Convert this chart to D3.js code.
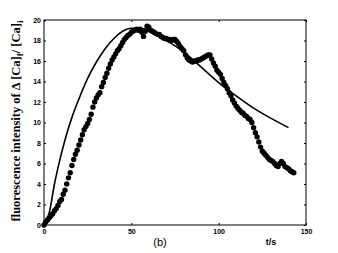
<!DOCTYPE html>
<html><head><meta charset="utf-8">
<script src="https://cdn.jsdelivr.net/npm/d3@7"></script>
<style>body{margin:0;background:#fff}svg{display:block}</style>
</head><body>
<script>
const xTicks = [0, 50, 100, 150];
const yTicks = [0, 2, 4, 6, 8, 10, 12, 14, 16, 18, 20];
const modelT = [0, 3, 6, 9, 12, 16, 20, 25, 30, 35, 40, 45, 50, 55, 60, 70, 80, 90, 100, 110, 120, 130, 140];
const modelV = [0, 1.2, 4.0, 6.3, 8.3, 10.5, 12.3, 14.3, 15.9, 17.2, 18.2, 18.9, 19.2, 19.2, 19.0, 18.0, 16.9, 15.4, 13.9, 12.6, 11.4, 10.4, 9.5];
const expT = [0,1,2,3,4,5,6,7,8,9,10,11,12,13,14,15,16,17,18,19,20,21,22,23,24,25,26,27,28,29,30,31,32,33,34,35,36,37,38,39,40,41,42,43,44,45,46,47,48,49,50,51,52,53,54,55,56,57,58,59,60,61,62,63,64,65,66,67,68,69,70,71,72,73,74,75,76,77,78,79,80,81,82,83,84,85,86,87,88,89,90,91,92,93,94,95,96,97,98,99,100,101,102,103,104,105,106,107,108,109,110,111,112,113,114,115,116,117,118,119,120,121,122,123,124,125,126,127,128,129,130,131,132,133,134,135,136,137,138,139,140,141,142,143];
const expV = [0,0.3,0.5,0.7,0.9,1.1,1.4,1.6,1.9,2.3,2.5,3.0,3.4,4.0,4.6,5.1,5.8,6.4,6.9,7.3,7.8,8.3,8.8,9.3,9.6,9.9,10.3,10.8,11.5,12.0,12.4,12.7,12.9,13.5,13.9,14.4,14.8,15.3,15.7,16.1,16.4,16.7,17.0,17.2,17.5,17.8,18.1,18.3,18.5,18.6,18.8,18.9,19.0,19.1,19.0,19.1,18.8,18.4,18.9,19.4,19.3,19.0,18.9,18.8,18.7,18.6,18.6,18.4,18.3,18.2,18.2,18.1,18.1,18.0,18.1,18.1,17.9,17.7,17.4,17.2,17.0,16.6,16.3,16.1,16.0,15.9,16.0,16.0,16.1,16.1,16.2,16.3,16.4,16.5,16.6,16.6,16.2,15.8,15.5,15.1,14.9,14.7,14.3,13.9,13.6,13.3,12.9,12.6,12.2,11.9,11.6,11.4,11.2,11.0,10.9,10.7,10.6,10.4,10.3,10.0,9.5,9.0,8.6,8.1,7.6,7.2,7.0,6.8,6.6,6.4,6.3,6.2,6.0,5.8,5.7,6.0,6.2,6.0,5.7,5.6,5.5,5.3,5.2,5.1];

const W = 338, H = 253;
const m = {l: 44, r: 32, t: 20, b: 28};
const svg = d3.select("body").append("svg").attr("width", W).attr("height", H);
const x = d3.scaleLinear().domain([0, 150]).range([m.l, W - m.r]);
const y = d3.scaleLinear().domain([0, 20]).range([H - m.b, m.t]);

const tickFont = "bold 7px Arial, 'Liberation Sans', sans-serif";
svg.append("rect").attr("x", x(0)).attr("y", y(20)).attr("width", x(150) - x(0)).attr("height", y(0) - y(20))
  .attr("fill", "none").attr("stroke", "#000").attr("stroke-width", 1);

const gx = svg.append("g").attr("transform", `translate(0,${y(0)})`)
  .call(d3.axisBottom(x).tickValues(xTicks).tickSize(-2).tickPadding(4).tickFormat(d3.format("d")));
const gy = svg.append("g").attr("transform", `translate(${x(0)},0)`)
  .call(d3.axisLeft(y).tickValues(yTicks).tickSize(-2).tickPadding(3).tickFormat(d3.format("d")));
const gr = svg.append("g").attr("transform", `translate(${x(150)},0)`)
  .call(d3.axisRight(y).tickValues(yTicks).tickSize(-2).tickFormat(""));
const gt = svg.append("g").attr("transform", `translate(0,${y(20)})`)
  .call(d3.axisTop(x).tickValues(xTicks).tickSize(-2).tickFormat(""));
[gx, gy, gr, gt].forEach(g => {
  g.select(".domain").remove();
  g.selectAll("line").attr("stroke", "#000");
  g.selectAll("text").style("font", tickFont).attr("fill", "#000");
});

svg.append("g").selectAll("circle").data(expT).join("circle")
  .attr("cx", (d) => x(d)).attr("cy", (d, i) => y(expV[i])).attr("r", 2.7).attr("fill", "#000");

const line = d3.line().x((d) => x(d)).y((d, i) => y(modelV[i])).curve(d3.curveMonotoneX);
svg.append("path").datum(modelT).attr("d", line).attr("fill", "none").attr("stroke", "#000").attr("stroke-width", 1.6);

svg.append("text").attr("x", 160).attr("y", 246).attr("text-anchor", "middle")
  .style("font", "11px Arial, 'Liberation Sans', sans-serif").text("(b)");
svg.append("text").attr("x", 271).attr("y", 245).attr("text-anchor", "middle")
  .style("font", "bold 9px Arial, 'Liberation Sans', sans-serif").text("t/s");

const yl = svg.append("text").attr("transform", "translate(20,121) rotate(-90)").attr("text-anchor", "middle")
  .style("font", "bold 12.5px 'Liberation Serif', 'Times New Roman', serif");
yl.append("tspan").text("fluorescence intensity of Δ [Ca]");
yl.append("tspan").attr("dy", 3).style("font-size", "9px").text("f");
yl.append("tspan").attr("dy", -3).text("/ [Ca]");
yl.append("tspan").attr("dy", 3).style("font-size", "9px").text("i");
</script>
</body></html>
